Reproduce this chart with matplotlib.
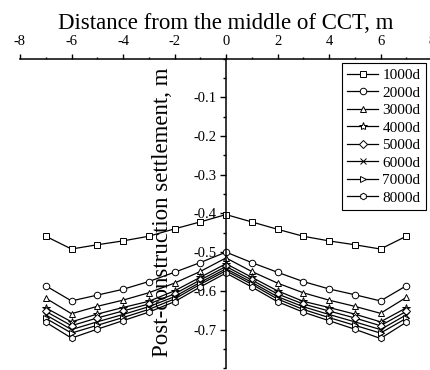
import matplotlib
matplotlib.use("Agg")
import matplotlib.pyplot as plt
from matplotlib.ticker import MultipleLocator

plt.rcParams['font.family'] = ['Liberation Serif', 'DejaVu Serif']
plt.rcParams['mathtext.fontset'] = 'stix'

x = [-7, -6, -5, -4, -3, -2, -1, 0, 1, 2, 3, 4, 5, 6, 7]
labels = ['1000d', '2000d', '3000d', '4000d', '5000d', '6000d', '7000d', '8000d']
markers = ['s', 'o', '^', '*', 'D', 'x', '>', 'h']

s1000 = [-0.459, -0.492, -0.481, -0.471, -0.459, -0.440, -0.422, -0.403,
         -0.422, -0.441, -0.459, -0.471, -0.481, -0.492, -0.459]
s2000 = [-0.587, -0.626, -0.611, -0.596, -0.576, -0.552, -0.527, -0.500,
         -0.527, -0.552, -0.576, -0.595, -0.610, -0.626, -0.587]
s3000 = [-0.619, -0.659, -0.640, -0.624, -0.605, -0.580, -0.550, -0.515,
         -0.550, -0.580, -0.605, -0.624, -0.640, -0.658, -0.617]
s4000 = [-0.644, -0.680, -0.660, -0.643, -0.627, -0.600, -0.565, -0.530,
         -0.565, -0.600, -0.627, -0.643, -0.660, -0.680, -0.644]
s5000 = [-0.653, -0.690, -0.670, -0.652, -0.634, -0.608, -0.572, -0.537,
         -0.572, -0.608, -0.634, -0.652, -0.670, -0.690, -0.653]
s6000 = [-0.662, -0.700, -0.680, -0.661, -0.641, -0.615, -0.578, -0.543,
         -0.578, -0.615, -0.641, -0.661, -0.680, -0.700, -0.662]
s7000 = [-0.671, -0.709, -0.689, -0.669, -0.648, -0.621, -0.583, -0.548,
         -0.583, -0.621, -0.648, -0.669, -0.689, -0.709, -0.671]
s8000 = [-0.681, -0.722, -0.699, -0.677, -0.655, -0.628, -0.590, -0.554,
         -0.590, -0.628, -0.655, -0.677, -0.699, -0.723, -0.681]
series = [s1000, s2000, s3000, s4000, s5000, s6000, s7000, s8000]

W, H = 430, 370
fig = plt.figure(figsize=(W / 100, H / 100), dpi=100)
ax = fig.add_axes([20 / W, 1 - 368.3 / H, 412 / W, (368.3 - 58.5) / H])

for ys, lab, m in zip(series, labels, markers):
    ms = 6.0 if m == '*' else 4.7
    if m == 'D':
        ms = 3.9
    ax.plot(x, ys, color='black', lw=0.9, marker=m, ms=ms,
            mfc='white', mec='black', mew=0.7, label=lab)

ax.set_xlim(-8, 8)
ax.set_ylim(-0.8, 0)

ax.spines['right'].set_visible(False)
ax.spines['bottom'].set_visible(False)
ax.spines['left'].set_position(('data', 0))
for sp in ['left', 'top']:
    ax.spines[sp].set_linewidth(1.1)

ax.xaxis.set_ticks_position('top')
ax.xaxis.set_label_position('top')
ax.xaxis.set_major_locator(MultipleLocator(2))
ax.xaxis.set_minor_locator(MultipleLocator(1))
ax.yaxis.set_major_locator(MultipleLocator(0.1))
ax.yaxis.set_minor_locator(MultipleLocator(0.05))
ax.set_yticks([-0.1, -0.2, -0.3, -0.4, -0.5, -0.6, -0.7])

ax.tick_params(axis='x', which='major', direction='out', length=3.5, width=1.0,
               labelsize=10.5, pad=4)
ax.tick_params(axis='x', which='minor', direction='out', length=1.8, width=1.0)
ax.tick_params(axis='y', which='major', direction='out', length=4, width=1.0,
               labelsize=10.5, pad=2.5)
ax.tick_params(axis='y', which='minor', direction='out', length=2, width=1.0)

ax.set_xticklabels([f'{int(v)}' for v in ax.get_xticks()])
ax.set_yticklabels([f'{v:.1f}' for v in ax.get_yticks()])

ax.set_xlabel('Distance from the middle of CCT, m', fontsize=16.5, labelpad=4.5)
fig.text(163 / W, 1 - 212 / H, 'Post-construction settlement, m', rotation=90,
         fontsize=16.5, ha='center', va='center')

leg = ax.legend(loc='upper left', bbox_to_anchor=(342 / W, 1 - 63 / H),
                bbox_transform=fig.transFigure, fontsize=11, frameon=True,
                fancybox=False, edgecolor='black', framealpha=1,
                handlelength=2.0, handletextpad=0.3, labelspacing=0.25,
                borderpad=0.35, borderaxespad=0)
leg.get_frame().set_linewidth(0.8)

fig.savefig('out.png', dpi=100)
